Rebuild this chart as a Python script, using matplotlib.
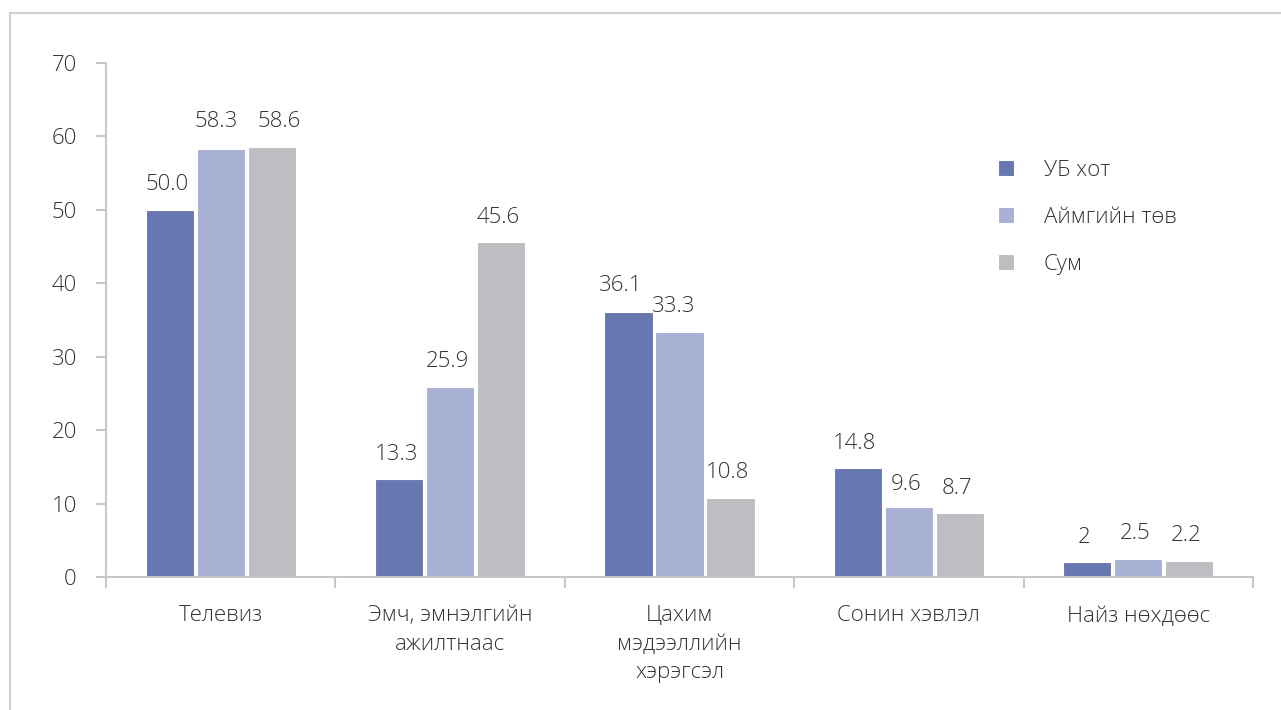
import matplotlib
matplotlib.use("Agg")
import matplotlib.pyplot as plt
from matplotlib.patches import Rectangle
import numpy as np

categories = ["Телевиз", "Эмч, эмнэлгийн\nажилтнаас", "Цахим\nмэдээллийн\nхэрэгсэл",
              "Сонин хэвлэл", "Найз нөхдөөс"]
series_names = ["УБ хот", "Аймгийн төв", "Сум"]
ub = [50.0, 13.3, 36.1, 14.8, 2.0]
aimag = [58.3, 25.9, 33.3, 9.6, 2.5]
sum_ = [58.6, 45.6, 10.8, 8.7, 2.2]
label_ub = ["50.0", "13.3", "36.1", "14.8", "2"]
label_aimag = ["58.3", "25.9", "33.3", "9.6", "2.5"]
label_sum = ["58.6", "45.6", "10.8", "8.7", "2.2"]

colors = ["#6977B1", "#A8B0D4", "#BDBEC2"]
text_color = "#333333"
axis_color = "#C8C8CC"

plt.rcParams['font.family'] = ['Open Sans', 'DejaVu Sans']
plt.rcParams['font.weight'] = 'light'

fig = plt.figure(figsize=(12.81, 7.10), dpi=100)
W, H = 1281, 710
ax = fig.add_axes([106 / W, 1 - 577 / H, (1253 - 106) / W, (577 - 63) / H])

# frame around the chart area
fig.patches.append(Rectangle((10 / W, -0.1), 1.2, 1 - 13 / H + 0.1, transform=fig.transFigure,
                             fill=False, edgecolor="#D0D0D0", linewidth=1.5))

FS = 16
x = np.arange(len(categories))
bw = 0.21
step = 0.222
all_vals = [ub, aimag, sum_]
all_labels = [label_ub, label_aimag, label_sum]
# label offsets in pixels (dx, dy) relative to bar top-center, keyed (category, series)
offsets = {(0, 1): (-5, 27), (0, 2): (8, 25),
           (2, 0): (-8, 26), (2, 1): (-6, 26), (3, 1): (-3, 22)}
for s, (vals, labs) in enumerate(zip(all_vals, all_labels)):
    pos = x + (s - 1) * step
    ax.bar(pos, vals, width=bw, color=colors[s], edgecolor="white", linewidth=0.8,
           label=series_names[s], zorder=2)
    for i, (p, v, lab) in enumerate(zip(pos, vals, labs)):
        dx, dy = offsets.get((i, s), (-3, 25))
        ax.annotate(lab, (p, v), xytext=(dx * 0.72, dy * 0.72), textcoords="offset points",
                    ha="center", va="center", fontsize=FS, color=text_color)

ax.set_xlim(-0.5, len(categories) - 0.5)
ax.set_ylim(0, 70)
ax.set_yticks(range(0, 71, 10))
ax.tick_params(axis="y", labelsize=FS, colors=axis_color, labelcolor=text_color,
               length=7, width=1.5, pad=14)
ax.set_xticks(np.arange(-0.5, len(categories), 1.0))
ax.set_xticklabels([])
ax.set_xticks(x, minor=True)
ax.set_xticklabels(categories, minor=True)
ax.tick_params(axis="x", which="major", length=8, width=1.5, colors=axis_color)
ax.tick_params(axis="x", which="minor", length=0, labelsize=FS, labelcolor=text_color, pad=20.5)
for lbl in ax.get_xticklabels(minor=True):
    lbl.set_linespacing(1.45)

for sp in ["top", "right"]:
    ax.spines[sp].set_visible(False)
for sp in ["left", "bottom"]:
    ax.spines[sp].set_color(axis_color)
    ax.spines[sp].set_linewidth(1.5)

leg = ax.legend(loc="upper left", bbox_to_anchor=((978 - 106) / (1253 - 106), 1 - (140 - 63) / (577 - 63)),
                frameon=False, fontsize=FS, handlelength=0.7, handleheight=0.7,
                handletextpad=1.35, labelspacing=1.17, labelcolor=text_color)

fig.savefig("out.png", dpi=100)
